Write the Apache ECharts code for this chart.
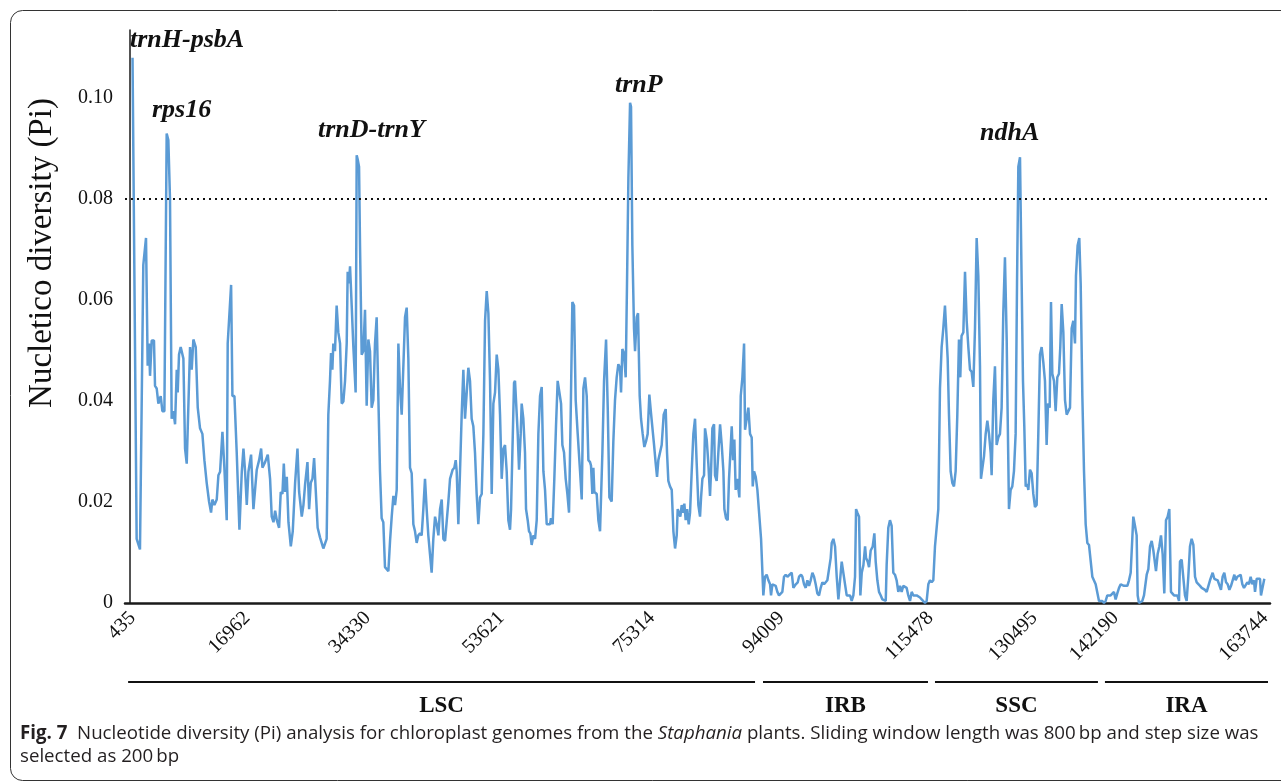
<!DOCTYPE html>
<html>
<head>
<meta charset="utf-8">
<script src="https://cdn.jsdelivr.net/npm/echarts@6/dist/echarts.min.js"></script>
<style>
html,body{margin:0;padding:0;background:#fff;}
#c{width:1281px;height:782px;}
</style>
</head>
<body>
<div id="c"></div>
<script>
// Window midpoint positions (kb) and nucleotide diversity (Pi)
const positionsKb = [
0.435,1.03,1.51,1.99,2.38,2.62,2.81,2.96,3.2,3.53,3.68,3.92,4.16,4.5,4.74,5.03,5.36,5.6,5.84,6.08,6.32,6.57,6.81,6.95,7.14,7.38,7.77,8.01,8.25,8.73,8.97,9.21,9.55,9.84,10.17,10.51,10.8,11.13,11.47,11.76,11.95,12.24,12.58,12.82,13.06,13.4,13.68,14.02,14.16,14.65,14.84,15.13,15.46,15.85,16.19,16.43,16.67,16.91,17.15,17.53,17.87,18.11,18.35,18.69,18.98,19.17,19.55,19.94,20.27,20.51,20.76,21.0,21.24,21.57,21.81,22.05,22.25,22.44,22.68,22.92,23.26,23.54,23.88,24.22,24.46,24.84,25.08,25.32,25.66,25.9,26.14,26.38,26.62,
27.13,27.47,27.71,27.95,28.19,28.43,28.67,28.91,29.06,29.25,29.39,29.63,29.87,30.11,30.36,30.6,30.84,31.08,31.32,31.46,31.65,31.8,32.04,32.28,32.42,32.61,32.76,32.9,33.1,33.24,33.48,33.72,33.96,34.2,34.44,34.68,34.92,35.16,35.4,35.64,35.88,36.12,36.36,36.6,36.84,37.09,37.33,37.57,37.81,38.05,38.29,38.53,38.77,39.01,39.25,39.49,39.73,39.97,40.21,40.45,40.69,40.93,41.17,41.41,41.65,41.89,42.13,42.37,42.61,42.85,43.09,43.33,43.57,43.81,44.06,44.3,44.54,44.78,45.02,45.26,45.5,45.74,45.98,46.22,46.46,46.6,46.84,47.04,47.18,47.42,47.66,47.9,48.14,48.38,48.62,48.86,49.1,49.34,49.58,49.82,50.06,50.3,50.54,50.79,51.03,51.27,51.51,51.75,51.99,52.23,52.47,52.71,52.95,53.19,53.43,53.67,53.91,
54.15,54.39,54.63,54.87,55.02,55.21,55.45,55.59,55.83,55.98,56.17,56.41,56.55,56.79,57.03,57.18,57.42,57.61,57.8,57.99,58.24,58.48,58.72,58.96,59.2,59.44,59.68,59.92,60.16,60.4,60.64,60.78,61.02,61.26,61.5,61.74,61.99,62.23,62.42,62.66,62.9,63.14,63.38,63.62,63.86,64.1,64.34,64.63,64.97,65.21,65.45,65.69,65.93,66.17,66.41,66.55,66.74,66.89,67.03,67.37,67.61,67.85,68.19,68.43,68.72,68.96,69.2,69.53,69.77,70.01,70.25,70.49,70.73,70.88,71.07,71.31,71.55,71.74,71.94,72.18,72.32,72.51,72.75,72.9,73.14,73.33,73.57,73.76,74.0,74.24,74.48,74.72,74.96,75.2,75.45,75.64,75.88,76.07,76.26,76.5,76.74,77.03,77.32,77.51,77.7,77.94,78.19,78.43,78.67,78.91,79.05,79.24,79.43,79.63,79.87,80.01,80.2,80.4,80.64,80.83,81.07,81.31,81.55,
81.79,82.03,82.27,82.42,82.61,82.85,82.99,83.23,83.47,83.71,83.86,84.05,84.29,84.43,84.67,84.91,85.16,85.4,85.64,85.78,86.02,86.26,86.45,86.6,86.84,87.03,87.22,87.41,87.65,87.94,88.14,88.38,88.62,88.76,89.0,89.24,89.48,89.72,89.87,90.06,90.3,90.54,90.78,91.07,91.4,91.64,91.88,92.13,92.37,92.51,92.7,92.94,93.18,93.42,93.66,93.9,94.14,94.38,94.62,94.87,95.11,95.49,95.73,96.07,96.36,96.55,96.84,97.03,97.27,97.51,97.75,97.99,98.23,98.47,98.71,98.95,99.19,99.43,99.67,99.91,100.15,100.39,100.63,100.87,101.11,101.26,101.5,101.74,101.98,102.22,102.46,102.7,102.94,103.18,103.42,103.66,103.9,104.14,104.38,104.62,104.77,104.96,105.2,105.39,105.59,105.83,106.07,106.21,106.45,106.64,106.88,107.17,107.41,107.6,107.84,108.08,108.33,108.57,108.81,109.05,
109.18,109.42,109.66,109.9,110.14,110.38,110.62,110.86,111.1,111.34,111.58,111.82,112.06,112.3,112.55,112.79,113.03,113.27,113.51,113.75,113.99,114.23,114.47,114.71,114.95,115.19,115.43,115.67,115.91,116.15,116.39,116.63,116.87,117.11,117.35,117.59,117.74,117.98,118.17,118.41,118.65,118.89,119.13,119.37,119.61,119.8,119.98,120.24,120.48,120.72,120.96,121.2,121.44,121.68,121.92,122.16,122.4,122.64,122.78,122.98,123.22,123.46,123.7,123.94,124.18,124.32,124.56,124.8,125.04,125.28,125.52,125.76,126.0,126.24,126.49,126.63,126.82,127.06,127.3,127.54,127.78,127.98,128.17,128.41,128.65,128.84,129.03,129.23,129.47,129.61,129.85,130.09,130.33,130.57,130.81,131.05,131.29,131.53,131.77,132.01,132.25,132.45,132.69,132.88,133.07,133.31,133.55,133.79,134.03,134.22,134.42,134.66,134.9,135.14,135.38,135.62,135.86,136.1,136.34,
136.48,136.72,136.96,137.16,137.4,137.64,137.88,138.12,138.36,138.6,138.84,139.08,139.32,139.56,139.8,140.04,140.28,140.52,140.76,141.0,141.24,141.48,141.72,141.96,142.2,142.44,142.69,142.93,143.17,143.41,143.65,143.89,144.13,144.37,144.61,144.75,144.99,145.23,145.38,145.57,145.81,146.05,146.29,146.53,146.68,146.92,147.16,147.4,147.64,147.88,148.02,148.26,148.5,148.74,148.98,149.22,149.46,149.7,149.94,150.18,150.38,150.62,150.86,151.1,151.34,151.48,151.72,151.96,152.2,152.44,152.68,152.92,153.16,153.41,153.65,153.89,154.13,154.37,154.61,154.85,155.09,155.33,155.57,155.81,156.05,156.19,156.43,156.67,156.91,157.15,157.39,157.63,157.87,158.12,158.36,158.6,158.84,159.08,159.32,159.51,159.75,159.99,160.23,160.47,160.71,160.95,161.19,161.43,161.67,161.91,162.15,162.3,162.54,162.78,163.02,163.16,163.4,163.64
];
const piValues = [
0.108,0.0127,0.0106,0.067,0.0723,0.047,0.0514,0.045,0.052,0.052,0.043,0.0425,0.0395,0.041,0.038,0.038,0.093,0.0917,0.08,0.0365,0.038,0.0354,0.0462,0.0417,0.0492,0.0507,0.0484,0.0306,0.0276,0.0507,0.0462,0.0522,0.0507,0.0387,0.0346,0.0335,0.0283,0.0238,0.0201,0.0179,0.0205,0.0194,0.0205,0.0253,0.026,0.0339,0.0268,0.0164,0.0514,0.063,0.041,0.041,0.0298,0.0145,0.026,0.0306,0.026,0.0194,0.026,0.0294,0.0186,0.0186,0.0264,0.0283,0.0306,0.0268,0.0279,0.0294,0.0246,0.0171,0.016,0.0183,0.0164,0.0149,0.022,0.0216,0.0276,0.022,0.025,0.016,0.0112,0.0142,0.0238,0.0306,0.022,0.0171,0.0194,0.0235,0.0279,0.0186,0.0238,0.0246,0.0287,
0.0149,0.013,0.0127,0.0108,0.0108,0.0127,0.0373,0.044,0.0495,0.0462,0.0514,0.0499,0.0589,0.0536,0.0514,0.0395,0.0399,0.044,0.0514,0.0656,0.0633,0.0667,0.0589,0.0507,0.0507,0.0417,0.0887,0.0879,0.0864,0.0708,0.0492,0.0499,0.0581,0.0391,0.0522,0.0499,0.0387,0.0402,0.0514,0.0566,0.041,0.0261,0.0168,0.016,0.0071,0.0067,0.0063,0.0123,0.0171,0.0212,0.0194,0.0224,0.0514,0.0425,0.0373,0.0376,0.0566,0.0585,0.0484,0.0268,0.0257,0.0156,0.0142,0.0119,0.0134,0.0138,0.0134,0.0186,0.0246,0.0186,0.0134,0.0097,0.006,0.0127,0.0171,0.0156,0.0134,0.0186,0.0205,0.0127,0.0123,0.0123,0.0201,0.0246,0.0246,0.0264,0.0268,0.0283,0.0261,0.0156,0.0261,0.0373,0.0462,0.0365,0.0365,0.0466,0.044,0.0365,0.035,0.0298,0.0216,0.0156,0.0209,0.0216,0.0335,0.0559,0.0618,0.0574,0.044,0.0216,0.0395,0.0417,0.0492,0.0462,0.0373,0.0246,0.0305,
0.0313,0.0261,0.0164,0.0145,0.0186,0.0298,0.0436,0.044,0.0443,0.0335,0.0264,0.0335,0.0395,0.0365,0.0298,0.0186,0.0164,0.0142,0.0138,0.0115,0.0134,0.0127,0.0164,0.0335,0.041,0.0428,0.0261,0.0224,0.0156,0.0153,0.0156,0.0168,0.0156,0.0246,0.035,0.044,0.0417,0.0395,0.0313,0.0298,0.0246,0.0216,0.0179,0.0373,0.0596,0.0589,0.0402,0.0335,0.0261,0.0205,0.0425,0.0447,0.041,0.0283,0.0279,0.0272,0.0216,0.0268,0.022,0.0216,0.0164,0.0142,0.0298,0.044,0.0522,0.0387,0.0209,0.0201,0.032,0.0402,0.0447,0.0473,0.0466,0.0417,0.0503,0.0495,0.0447,0.0633,0.0842,0.0991,0.0983,0.0708,0.0544,0.0499,0.0566,0.0574,0.041,0.0365,0.0335,0.0309,0.032,0.0335,0.0413,0.0376,0.0376,0.0313,0.0276,0.025,0.0283,0.0283,0.0313,0.0373,0.0384,0.0298,0.0242,0.0231,0.0224,0.0142,0.0108,0.0134,0.0186,0.0186,0.0171,0.0194,0.0179,0.0197,0.0164,0.0186,0.0156,0.0179,0.0261,0.0335,0.0365,
0.0276,0.0194,0.0171,0.0209,0.0246,0.0253,0.0346,0.0324,0.0276,0.0212,0.0261,0.0346,0.0354,0.0253,0.0242,0.0298,0.0354,0.0313,0.0261,0.0186,0.0168,0.0164,0.0246,0.0246,0.035,0.0283,0.0324,0.0224,0.0246,0.0209,0.041,0.0447,0.0514,0.0343,0.0346,0.0387,0.0335,0.0328,0.0231,0.0261,0.025,0.0224,0.0224,0.0127,0.0015,0.0052,0.0056,0.0045,0.0037,0.0015,0.0037,0.0037,0.0034,0.0022,0.0015,0.0015,0.0022,0.0052,0.0056,0.0052,0.0052,0.006,0.003,0.0037,0.0041,0.0052,0.0056,0.0052,0.0037,0.003,0.0045,0.0034,0.0045,0.006,0.0052,0.0037,0.0019,0.0015,0.003,0.0041,0.0037,0.0037,0.0045,0.0067,0.0089,0.0119,0.0127,0.0112,0.0052,0.0007,0.0004,0.0082,0.0082,0.0037,0.0015,0.0015,0.0015,0.0004,0.0015,0.0052,0.0186,0.0179,0.0171,0.0015,0.006,0.0075,0.0112,0.0089,0.0082,0.0071,0.0104,0.0112,0.0138,0.0082,0.0045,0.0022,0.0015,0.0007,0.0004,0.0004,
0.0075,0.0149,0.0164,0.0153,0.006,0.0056,0.0045,0.0022,0.0034,0.0022,0.0034,0.0034,0.003,0.0015,0.0004,0.0022,0.0015,0.0015,0.0015,0.0015,0.0011,0.0007,0.0004,0,0.0004,0.0037,0.0045,0.0041,0.0045,0.0112,0.0115,0.0186,0.0425,0.0507,0.0544,0.0589,0.0592,0.0484,0.0373,0.0261,0.0238,0.0231,0.0261,0.0373,0.0522,0.0447,0.0529,0.0536,0.0656,0.0559,0.0507,0.0462,0.0458,0.0428,0.0544,0.0723,0.0648,0.0469,0.0246,0.0246,0.0291,0.0335,0.0361,0.0335,0.0298,0.0253,0.0402,0.0469,0.0313,0.0328,0.0335,0.0387,0.0574,0.0685,0.0522,0.0373,0.0186,0.0224,0.0231,0.0261,0.0335,0.0633,0.0864,0.0883,0.0633,0.044,0.035,0.0231,0.0235,0.0224,0.0264,0.0257,0.0216,0.019,0.0194,0.0335,0.0492,0.0507,0.0477,0.044,0.0313,0.0395,0.0387,0.0596,0.0454,0.044,0.038,0.0447,0.0454,0.0507,0.0592,0.0536,0.0402,0.0373,0.0373,0.0387,0.0544,0.0559,0.0514,
0.0648,0.0708,0.0723,0.0633,0.041,0.0261,0.0156,0.0119,0.0115,0.0112,0.0052,0.0052,0.0037,0.0037,0.0004,0.0004,0.0004,0,0.0004,0.0015,0.0015,0.0015,0.0015,0.0022,0.0007,0.0019,0.003,0.0037,0.0037,0.0034,0.0034,0.0034,0.0045,0.006,0.006,0.0171,0.0153,0.0134,0.0015,0,0,0.0004,0.0015,0.0015,0.0056,0.0067,0.0112,0.0123,0.0104,0.0101,0.0063,0.0097,0.0112,0.0134,0.0097,0.0019,0.0164,0.0171,0.0186,0.0022,0.0019,0.0015,0.0015,0.0015,0.0004,0.0082,0.0086,0.0086,0.0015,0.0004,0.0052,0.0112,0.0127,0.0115,0.0052,0.0041,0.0041,0.0034,0.003,0.003,0.0026,0.0022,0.0022,0.0045,0.0048,0.006,0.0048,0.0045,0.0045,0.0045,0.0026,0.0052,0.006,0.0041,0.0037,0.0026,0.0034,0.0037,0.0056,0.0045,0.0052,0.0052,0.0056,0.0037,0.003,0.003,0.0041,0.0037,0.0052,0.0037,0.0045,0.0022,0.0048,0.0048,0.0048,0.0015,0.0015,0.0048
];

// x-axis tick labels (bp) and their positions (kb)
const tickLabels = ['435','16962','34330','53621','75314','94009','115478','130495','142190','163744'];
const tickPositionsKb = [0.435,16.962,34.33,53.621,75.314,94.009,115.478,130.495,142.19,163.744];

const yTickStep = 0.02;
const threshold = 0.08;

// highlighted peaks
const peakNames = ['trnH-psbA','rps16','trnD-trnY','trnP','ndhA'];

// genome regions (kb)
const regionNames = ['LSC','IRB','SSC','IRA'];
const regionStartKb = [-0.2, 91.35, 116.15, 140.66];
const regionEndKb = [90.2, 115.14, 139.65, 164.17];

const chart = echarts.init(document.getElementById('c'), null, {renderer:'canvas', width:1281, height:782});

const lineData = positionsKb.map((p, i) => [p, piValues[i]]);

const serif = '"Liberation Serif", "DejaVu Serif", serif';
const sans = '"Open Sans", "Noto Sans", sans-serif';

chart.setOption({
  animation: false,
  backgroundColor: '#ffffff',
  grid: {left: 125, right: 11, top: 30, bottom: 179, containLabel: false, outerBoundsMode: 'none'},
  xAxis: {
    type: 'value', min: -0.65, max: 164.46,
    axisLine: {show: true, lineStyle: {color: '#1a1a1a', width: 2.5}},
    axisTick: {show: false},
    splitLine: {show: false},
    axisLabel: {
      customValues: tickPositionsKb,
      rotate: 45, margin: 12,
      fontFamily: serif, fontSize: 20, color: '#111',
      formatter: function (v) {
        const i = tickPositionsKb.indexOf(v);
        return i >= 0 ? tickLabels[i] : '';
      }
    }
  },
  yAxis: {
    type: 'value', min: 0, max: 0.1135, interval: yTickStep,
    axisLine: {show: true, lineStyle: {color: '#1a1a1a', width: 1.5}},
    axisTick: {show: false},
    splitLine: {show: false},
    axisLabel: {
      margin: 12, fontFamily: serif, fontSize: 20, color: '#111',
      formatter: function (v) {
        const k = v / yTickStep;
        if (Math.abs(k - Math.round(k)) > 1e-6) return '';
        return v === 0 ? '0' : v.toFixed(2);
      }
    }
  },
  series: [{
    type: 'line',
    data: lineData,
    showSymbol: false,
    symbol: 'none',
    lineStyle: {color: '#5b9bd5', width: 2.5},
    itemStyle: {color: '#5b9bd5'},
    markLine: {
      silent: true, symbol: ['none', 'none'],
      label: {show: false},
      lineStyle: {color: '#111', type: [2, 4], width: 1.8},
      data: [{yAxis: threshold}]
    }
  }]
});

// annotations, region bars and caption
const peakLabelPos = [[130, 40], [152, 110], [318, 130], [615, 85], [980, 133]];
const graphics = [];
graphics.push({
  type: 'rect', silent: true,
  shape: {x: 10.5, y: 10.5, width: 1300, height: 770, r: 12},
  style: {fill: 'none', stroke: '#333', lineWidth: 1}
});
peakNames.forEach((name, i) => {
  graphics.push({
    type: 'text', silent: true,
    x: peakLabelPos[i][0], y: peakLabelPos[i][1],
    style: {text: name, fontFamily: serif, fontSize: 26, fontStyle: 'italic', fontWeight: 'bold',
      fill: '#111', align: 'left', verticalAlign: 'middle'}
  });
});
graphics.push({
  type: 'text', silent: true, x: 42, y: 253, rotation: Math.PI / 2,
  style: {text: 'Nucletico diversity (Pi)', fontFamily: serif, fontSize: 33, fill: '#111',
    align: 'center', verticalAlign: 'middle'}
});
regionNames.forEach((name, i) => {
  const x1 = chart.convertToPixel({xAxisIndex: 0}, regionStartKb[i]);
  const x2 = chart.convertToPixel({xAxisIndex: 0}, regionEndKb[i]);
  graphics.push({
    type: 'line', silent: true,
    shape: {x1: x1, y1: 682, x2: x2, y2: 682},
    style: {stroke: '#111', lineWidth: 2}
  });
  graphics.push({
    type: 'text', silent: true, x: (x1 + x2) / 2, y: 706,
    style: {text: name, fontFamily: serif, fontSize: 23, fontWeight: 'bold', fill: '#111',
      align: 'center', verticalAlign: 'middle'}
  });
});
graphics.push({
  type: 'text', silent: true, x: 20, y: 722,
  style: {
    text: '{b|Fig. 7}  Nucleotide diversity (Pi) analysis for chloroplast genomes from the {i|Staphania} plants. Sliding window length was 800\u2009bp and step size was\nselected as 200\u2009bp',
    fontFamily: sans, fontSize: 18.7, fill: '#231f20',
    lineHeight: 23, align: 'left', verticalAlign: 'top',
    rich: {
      b: {fontFamily: sans, fontSize: 18.7, fontWeight: 'bold', fill: '#231f20', lineHeight: 23},
      i: {fontFamily: sans, fontSize: 18.7, fontStyle: 'italic', fill: '#231f20', lineHeight: 23}
    }
  }
});
chart.setOption({graphic: graphics});
</script>
</body>
</html>
